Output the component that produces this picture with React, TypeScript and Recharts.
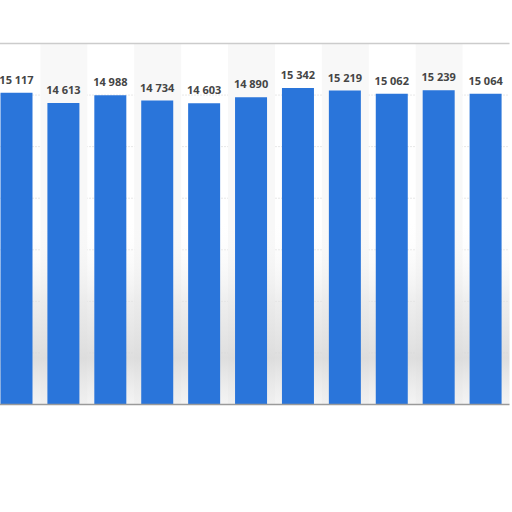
import React from 'react';
import {
  BarChart,
  Bar,
  XAxis,
  YAxis,
  CartesianGrid,
  LabelList,
  ReferenceArea,
  ReferenceLine,
} from 'recharts';

const categories = ['2012', '2013', '2014', '2015', '2016', '2017', '2018', '2019', '2020', '2021', '2022'];
const values = [15117, 14613, 14988, 14734, 14603, 14890, 15342, 15219, 15062, 15239, 15064];
const yTicks = [0, 2500, 5000, 7500, 10000, 12500, 15000, 17500];

const data = categories.map((name, i) => ({ name, value: values[i] }));

const formatValue = (v: number) => String(v).replace(/\B(?=(\d{3})+(?!\d))/g, ' ');

// plain svg text so the label doesn't wrap to the bar width
const ValueLabel = (props: any) => {
  const { x, y, width, value } = props;
  return (
    <text
      x={x + width / 2}
      y={y - 9}
      textAnchor="middle"
      fontSize={11}
      fontWeight={700}
      fill="#454545"
      fontFamily="Open Sans, sans-serif"
    >
      {formatValue(Number(value))}
    </text>
  );
};

export default function App() {
  return (
    <div style={{ position: 'absolute', left: 0, top: 0, width: 512, height: 512, background: '#fff' }}>
      <BarChart
        width={512}
        height={512}
        data={data}
        margin={{ top: 43.5, right: 2.5, bottom: 107.5, left: -6.5 }}
      >
        <defs>
          <linearGradient id="shade" x1="0" y1="0" x2="0" y2="1">
            <stop offset="0%" stopColor="#ffffff" stopOpacity={0} />
            <stop offset="45%" stopColor="#e2e2e2" stopOpacity={0.6} />
            <stop offset="75%" stopColor="#d6d6d6" stopOpacity={0.8} />
            <stop offset="100%" stopColor="#e8e8e8" stopOpacity={0.5} />
          </linearGradient>
        </defs>
        {categories.map((c, i) =>
          i % 2 === 1 ? (
            <ReferenceArea key={c} x1={c} x2={c} fill="#f8f8f8" fillOpacity={1} stroke="none" />
          ) : null
        )}
        <ReferenceArea y1={0} y2={9000} fill="url(#shade)" fillOpacity={1} stroke="none" />
        <CartesianGrid vertical={false} stroke="#cfcfcf" strokeDasharray="1 2" />
        <XAxis dataKey="name" hide />
        <YAxis domain={[0, 17500]} ticks={yTicks} hide />
        <ReferenceLine y={17500} stroke="#cccccc" strokeWidth={1.5} />
        <Bar dataKey="value" fill="#2a75da" barSize={32} isAnimationActive={false}>
          <LabelList dataKey="value" content={ValueLabel} />
        </Bar>
        <ReferenceLine y={0} stroke="#9a9a9a" strokeWidth={1.5} />
      </BarChart>
    </div>
  );
}
